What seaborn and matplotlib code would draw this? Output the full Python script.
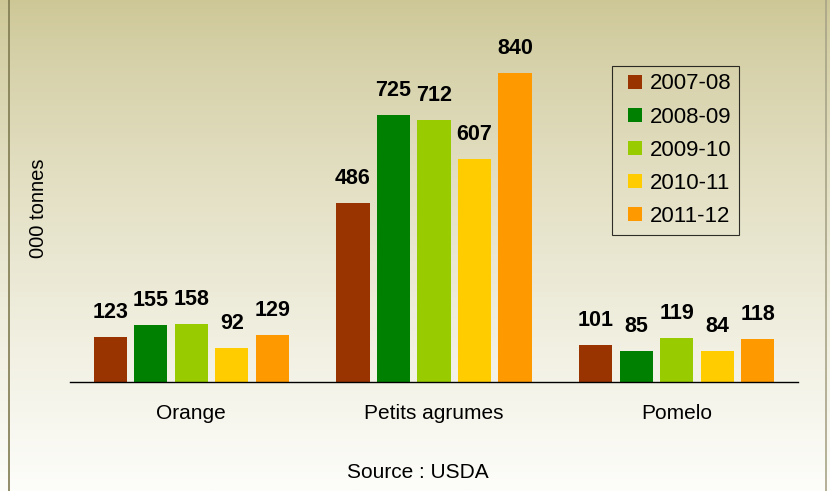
import matplotlib
matplotlib.use("Agg")
import matplotlib.pyplot as plt
import seaborn as sns
import pandas as pd
import numpy as np
from matplotlib.lines import Line2D

# Data
categories = ["Orange", "Petits agrumes", "Pomelo"]
seasons = ["2007-08", "2008-09", "2009-10", "2010-11", "2011-12"]
v_2007_08 = [123, 486, 101]
v_2008_09 = [155, 725, 85]
v_2009_10 = [158, 712, 119]
v_2010_11 = [92, 607, 84]
v_2011_12 = [129, 840, 118]
colors = ["#993300", "#008000", "#99CC00", "#FFCC00", "#FF9900"]

series = [v_2007_08, v_2008_09, v_2009_10, v_2010_11, v_2011_12]
rows = []
for season, vals in zip(seasons, series):
    for cat, v in zip(categories, vals):
        rows.append({"produit": cat, "saison": season, "valeur": v})
df = pd.DataFrame(rows)

sns.set_style("white")
plt.rcParams["font.family"] = ["Liberation Sans", "DejaVu Sans"]
plt.rcParams["text.color"] = "black"
plt.rcParams["xtick.color"] = "black"

fig = plt.figure(figsize=(8.3, 4.91), dpi=100)

# Background gradient (khaki at top fading to near white)
bg = fig.add_axes([0, 0, 1, 1], zorder=-1)
t = np.linspace(0, 1, 256) ** 0.8
top = np.array([205, 199, 150]) / 255
bottom = np.array([253, 253, 250]) / 255
grad = top[None, :] * (1 - t[:, None]) + bottom[None, :] * t[:, None]
grad = np.clip(grad, 0, 1)
bg.imshow(grad[:, None, :], aspect="auto", extent=[0, 1, 0, 1], origin="upper")
bg.axvline(8.5 / 830, color="#7f7a50", lw=1.2)
bg.axvline(825.5 / 830, color="#a8a488", lw=1.2)
bg.set_xlim(0, 1)
bg.set_ylim(0, 1)
bg.axis("off")

ax = fig.add_axes([70 / 830, (491 - 382) / 491, (798 - 70) / 830, 382 / 491])
ax.patch.set_alpha(0)

sns.barplot(data=df, x="produit", y="valeur", hue="saison", palette=colors,
            width=0.835, gap=0.18, ax=ax, legend=False, saturation=1,
            linewidth=0)

for cont in ax.containers:
    ax.bar_label(cont, padding=10, fontsize=15.5, fontweight="bold")

ax.set_ylim(0, 1038)
ax.set_yticks([])
ax.set_xlabel("")
ax.set_ylabel("")
for s in ["top", "right", "left"]:
    ax.spines[s].set_visible(False)
ax.spines["bottom"].set_color("black")
ax.spines["bottom"].set_linewidth(1.0)
ax.tick_params(axis="x", length=0, pad=16, labelsize=15)

handles = [Line2D([], [], linestyle="none", marker="s", markersize=10,
                  markerfacecolor=c, markeredgewidth=0, label=s)
           for c, s in zip(colors, seasons)]
leg = ax.legend(handles=handles, loc="upper left",
                bbox_to_anchor=((612 - 70) / 728, 1 - 66 / 382),
                fontsize=16, frameon=True, fancybox=False,
                handlelength=1.45, handleheight=0.7, handletextpad=-0.07,
                labelspacing=0.55, borderpad=0.33, borderaxespad=0)
leg.get_frame().set_edgecolor("black")
leg.get_frame().set_facecolor("none")
leg.get_frame().set_linewidth(0.8)

fig.text(38 / 830, 1 - 208 / 491, "000 tonnes", rotation=90, ha="center",
         va="center", fontsize=14.5)
fig.text(418 / 830, 1 - 472 / 491, "Source : USDA", ha="center", va="center",
         fontsize=15)

fig.savefig("out.png", dpi=100)
